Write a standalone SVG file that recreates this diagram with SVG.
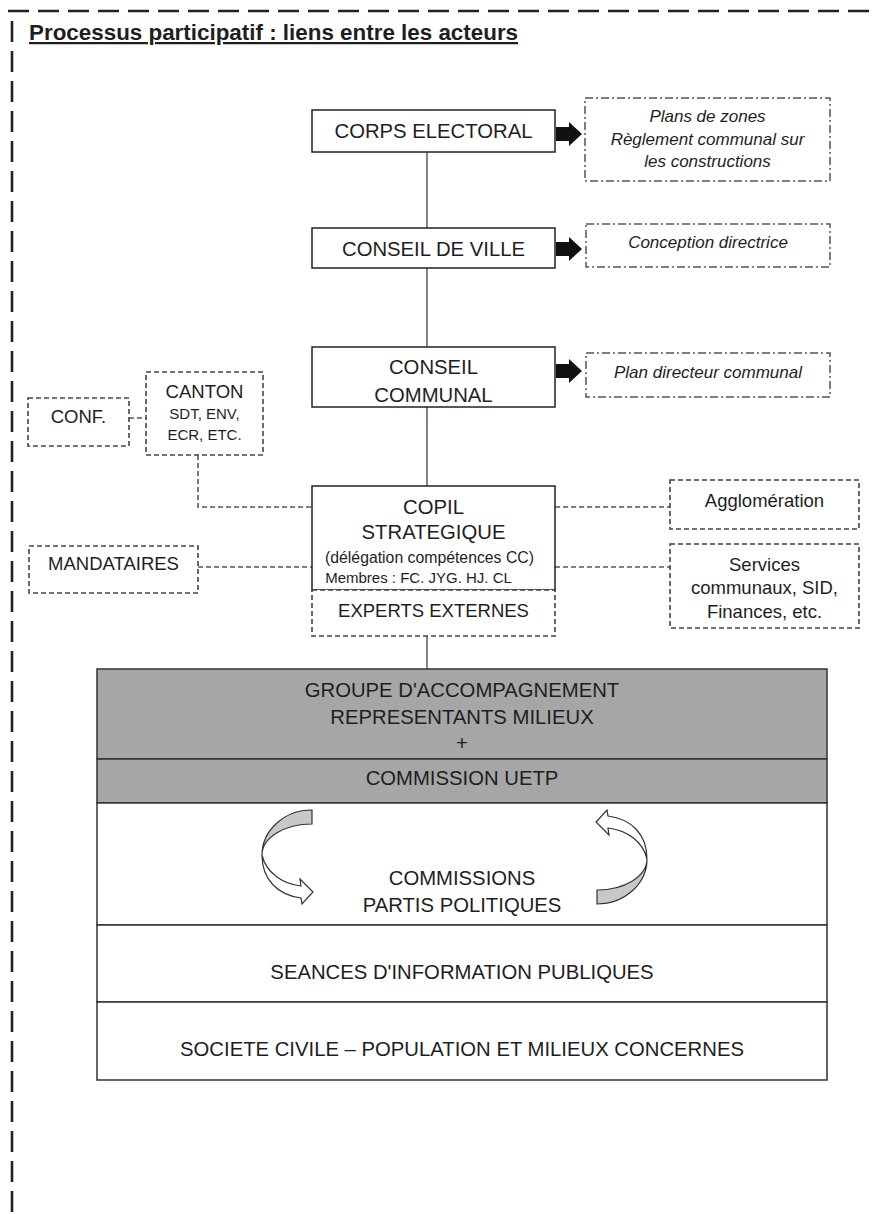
<svg xmlns="http://www.w3.org/2000/svg" width="873" height="1214" viewBox="0 0 873 1214">
<defs>
<style>
text{font-family:"Liberation Sans",Arial,sans-serif;fill:#1e1e1e;text-anchor:middle}
.t20{font-size:20.3px}
.t18{font-size:18.5px}
.t15{font-size:15px}
.it{font-size:17px;font-style:italic}
.solid{fill:#fff;stroke:#222;stroke-width:1.5}
.dash{fill:#fff;stroke:#444;stroke-width:1.6;stroke-dasharray:5 3}
.dashdot{fill:#fff;stroke:#555;stroke-width:1.5;stroke-dasharray:8 3 2 3}
.gray{fill:#a6a6a6;stroke:#333;stroke-width:1.5}
.white{fill:#fff;stroke:#333;stroke-width:1.5}
.vline{stroke:#666;stroke-width:1.6;fill:none}
.dline{stroke:#555;stroke-width:1.6;fill:none;stroke-dasharray:5 3}
.frame{stroke:#222;stroke-width:2.6;fill:none;stroke-dasharray:21 9}
.blk{fill:#111}
.cback{fill:#c8c8c8;stroke:#333;stroke-width:1.2}
.cfront{fill:#fff;stroke:#333;stroke-width:1.2}
</style>
</defs>
<rect width="873" height="1214" fill="#fff"/>
<g id="frame">
<line class="frame" x1="8" y1="11" x2="873" y2="11"/>
<line class="frame" x1="12" y1="21" x2="12" y2="1214"/>
</g>
<text x="29" y="40" style="font-size:22.4px;font-weight:bold;text-anchor:start;text-decoration:underline">Processus participatif : liens entre les acteurs</text>
<g id="connectors">
<line class="vline" x1="427" y1="152" x2="427" y2="228"/>
<line class="vline" x1="427" y1="268" x2="427" y2="347"/>
<line class="vline" x1="427" y1="407" x2="427" y2="486"/>
<line class="vline" x1="427" y1="636" x2="427" y2="669"/>
<line class="dline" x1="129" y1="418" x2="146" y2="418"/>
<polyline class="dline" points="198,455 198,507 312,507"/>
<line class="dline" x1="198" y1="567" x2="312" y2="567"/>
<line class="dline" x1="555" y1="507" x2="670" y2="507"/>
<line class="dline" x1="555" y1="567" x2="670" y2="567"/>
<path class="blk" d="M556,127 H569 V122 L582,134 L569,146 V141 H556 Z"/>
<path class="blk" d="M556,242 H569 V237 L582,249 L569,261 V256 H556 Z"/>
<path class="blk" d="M556,364 H569 V359 L582,371 L569,383 V378 H556 Z"/>
</g>
<g id="corps">
<rect class="solid" x="312" y="110" width="243" height="42"/>
<text class="t20" x="433.5" y="138">CORPS ELECTORAL</text>
</g>
<g id="plans">
<rect class="dashdot" x="585" y="98" width="245" height="83"/>
<text class="it" x="707.5" y="122">Plans de zones</text>
<text class="it" x="707.5" y="145">Règlement communal sur</text>
<text class="it" x="707.5" y="167">les constructions</text>
</g>
<g id="conseil-ville">
<rect class="solid" x="312" y="228" width="243" height="40"/>
<text class="t20" x="433.5" y="256">CONSEIL DE VILLE</text>
</g>
<g id="conception">
<rect class="dashdot" x="586" y="224" width="244" height="43"/>
<text class="it" x="708" y="248">Conception directrice</text>
</g>
<g id="conseil-communal">
<rect class="solid" x="312" y="347" width="243" height="60"/>
<text class="t20" x="433.5" y="374">CONSEIL</text>
<text class="t20" x="433.5" y="402">COMMUNAL</text>
</g>
<g id="plan-directeur">
<rect class="dashdot" x="586" y="353" width="244" height="44"/>
<text class="it" x="708" y="378">Plan directeur communal</text>
</g>
<g id="conf">
<rect class="dash" x="28" y="398" width="101" height="48"/>
<text class="t18" x="78.5" y="423">CONF.</text>
</g>
<g id="canton">
<rect class="dash" x="146" y="372" width="117" height="83"/>
<text class="t18" x="204.5" y="398">CANTON</text>
<text class="t15" x="204.5" y="419">SDT, ENV,</text>
<text class="t15" x="204.5" y="440">ECR, ETC.</text>
</g>
<g id="copil">
<rect class="solid" x="312" y="486" width="243" height="104"/>
<text class="t20" x="433.5" y="514">COPIL</text>
<text class="t20" x="433.5" y="539">STRATEGIQUE</text>
<text x="429.5" y="563" style="font-size:15.8px">(délégation compétences CC)</text>
<text x="418.5" y="583" style="font-size:15px">Membres : FC. JYG. HJ. CL</text>
</g>
<g id="experts">
<rect class="dash" x="312" y="590" width="243" height="46"/>
<text class="t18" x="433.5" y="617">EXPERTS EXTERNES</text>
</g>
<g id="mandataires">
<rect class="dash" x="29" y="546" width="169" height="47"/>
<text class="t18" x="113.5" y="570">MANDATAIRES</text>
</g>
<g id="agglomeration">
<rect class="dash" x="670" y="480" width="189" height="49"/>
<text class="t18" x="764.5" y="507">Agglomération</text>
</g>
<g id="services">
<rect class="dash" x="670" y="544" width="189" height="84"/>
<text class="t18" x="764.5" y="571">Services</text>
<text class="t18" x="764.5" y="594">communaux, SID,</text>
<text class="t18" x="764.5" y="618">Finances, etc.</text>
</g>
<g id="groupe">
<rect class="gray" x="97" y="669" width="730" height="90"/>
<text class="t20" x="462" y="697">GROUPE D'ACCOMPAGNEMENT</text>
<text class="t20" x="462" y="724">REPRESENTANTS MILIEUX</text>
<text class="t20" x="462" y="750">+</text>
</g>
<g id="commission-uetp">
<rect class="gray" x="97" y="759" width="730" height="44"/>
<text class="t20" x="462" y="785">COMMISSION UETP</text>
</g>
<g id="commissions">
<rect class="white" x="97" y="803" width="730" height="122"/>
<text class="t20" x="462" y="885">COMMISSIONS</text>
<text class="t20" x="462" y="912">PARTIS POLITIQUES</text>
<g id="curved-left">
<path class="cback" d="M312,810 A50,45 0 0 0 262,855 A50,31 0 0 1 312,824 Z"/>
<path class="cfront" d="M262,855 C262,880 278,895 301,898 L302,904 L313,892 L300,879 L301,886 C283,884 266,873 262,855 Z"/>
</g>
<g id="curved-right" transform="rotate(180 454.5 857)">
<path class="cback" d="M312,810 A50,45 0 0 0 262,855 A50,31 0 0 1 312,824 Z"/>
<path class="cfront" d="M262,855 C262,880 278,895 301,898 L302,904 L313,892 L300,879 L301,886 C283,884 266,873 262,855 Z"/>
</g>
</g>
<g id="seances">
<rect class="white" x="97" y="925" width="730" height="77"/>
<text class="t20" x="462" y="979">SEANCES D'INFORMATION PUBLIQUES</text>
</g>
<g id="societe">
<rect class="white" x="97" y="1002" width="730" height="78"/>
<text class="t20" x="462" y="1056">SOCIETE CIVILE – POPULATION ET MILIEUX CONCERNES</text>
</g>
</svg>
